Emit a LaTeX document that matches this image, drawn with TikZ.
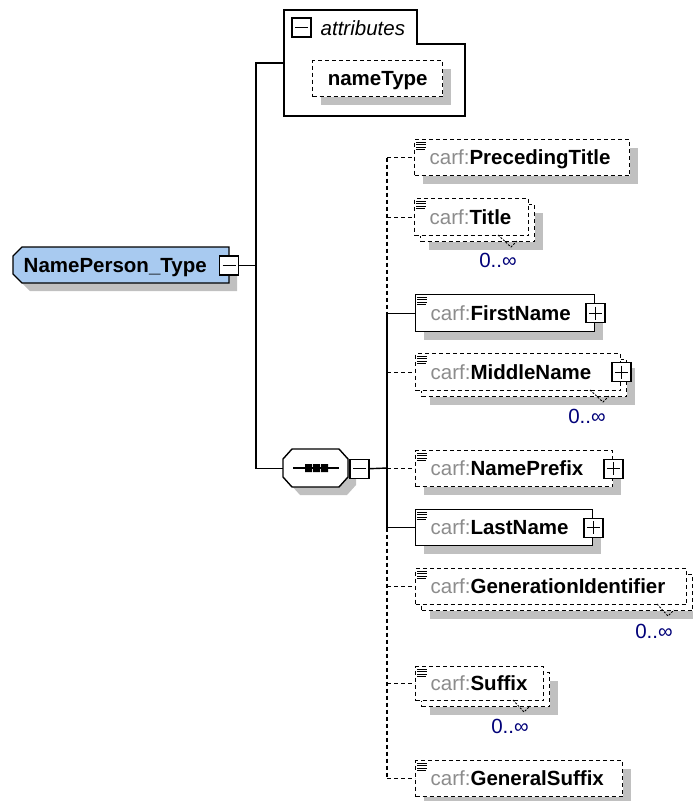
\documentclass[tikz,border=0pt]{standalone}
\usepackage{fontspec}
\setmainfont{Liberation Sans}
\usetikzlibrary{shadows}
\definecolor{typeblue}{RGB}{168,202,240}
\definecolor{shadowgray}{RGB}{192,192,192}
\definecolor{nsgray}{RGB}{140,140,140}
\definecolor{occblue}{RGB}{0,0,120}

\begin{document}
\begin{tikzpicture}[x=1pt,y=-1pt,line width=1.4pt,
  font=\fontsize{20.5}{24}\selectfont,
  optline/.style={dash pattern=on 4pt off 3pt},
  notch/.style={line width=0.9pt,dash pattern=on 2pt off 1.5pt},
  dshadow/.style={drop shadow={shadow xshift=8pt,shadow yshift=-8pt,fill=shadowgray,opacity=1}},
  lbl/.style={inner sep=0pt,text height=19pt,text depth=5pt},
  elbox/.style={draw,fill=white,anchor=north west,inner xsep=15pt,inner ysep=0pt,text height=19pt,text depth=5pt},
  optbox/.style={elbox,optline},
  pmbox/.style={draw,fill=white,solid,minimum size=19pt,inner sep=0pt},
  plusbox/.style={pmbox,path picture={\draw ([xshift=3pt]path picture bounding box.west) -- ([xshift=-3pt]path picture bounding box.east) ([yshift=-3pt]path picture bounding box.north) -- ([yshift=3pt]path picture bounding box.south);}},
  minusbox/.style={pmbox,path picture={\draw ([xshift=3pt]path picture bounding box.west) -- ([xshift=-3pt]path picture bounding box.east);}},
  occ/.style={text=occblue,inner sep=0pt},
  docicon/.pic={\draw[line width=1pt] (0,0) -- (10,0) (0,2.6) -- (10,2.6) (0,5.2) -- (10,5.2) (0,7.8) -- (9,7.8);}
]
\useasboundingbox (0,0) rectangle (693,801);

% attributes
\draw (284,10) -- (417,10) -- (417,44) -- (465,44) -- (465,116) -- (284,116) -- cycle;
\node[minusbox] (attrm) at (301.5,27.5) {};
\node[lbl,anchor=west] (attrs) at (320,28) {\itshape attributes};
\node[optbox,dshadow,minimum width=130,minimum height=36,inner xsep=0pt] (nt) at (312,60) {\textbf{nameType}};
\coordinate (attrin) at (284,63);

% complex type
\fill[shadowgray] (30,255) -- (237,255) -- (237,291) -- (30,291) -- (21,282) -- (21,264) -- cycle;
\draw[fill=typeblue] (22,247) -- (229,247) -- (229,283) -- (22,283) -- (13,274) -- (13,256) -- cycle;
\node[lbl,anchor=west] (npt) at (23,265) {\textbf{NamePerson\_Type}};
\node[minusbox] (nptm) at (229,265.5) {};
\coordinate (trunk) at (256,265.5);

% sequence
\fill[shadowgray] (300,457) -- (347,457) -- (356,467) -- (356,485) -- (347,495) -- (300,495) -- (291,485) -- (291,467) -- cycle;
\draw[fill=white] (292,449) -- (339,449) -- (348,459) -- (348,477) -- (339,487) -- (292,487) -- (283,477) -- (283,459) -- cycle;
\node[minimum width=65,minimum height=38,inner sep=0pt,anchor=north west] (seq) at (283,449) {};
\draw (293,468) -- (339,468);
\fill (305,464) rectangle (312,472) (313,464) rectangle (320,472) (321,464) rectangle (328,472);
\node[minusbox,anchor=west] (seqm) at (seq.east) {};
\coordinate (bus) at (387,468);

% elements
\node[optbox,dshadow,minimum height=36] (pt) at (414,139) {\makebox[185pt][l]{{\color{nsgray}carf:}\textbf{PrecedingTitle}}};
\pic at ([shift={(2,3)}]pt.north west) {docicon};

\node[optbox,dshadow,minimum width=114,minimum height=37] (tib) at (420,204) {};
\node[optbox,minimum height=37] (ti) at (414,198) {\makebox[84pt][l]{{\color{nsgray}carf:}\textbf{Title}}};
\pic at ([shift={(2,3)}]ti.north west) {docicon};
\draw[notch] (498,235) -- (511,247) -- (517,241);
\node[occ] (tiocc) at (498,260) {0..∞};

\node[elbox,dshadow,minimum height=37] (fn) at (415,294) {\makebox[149pt][l]{{\color{nsgray}carf:}\textbf{FirstName}}};
\pic at ([shift={(2,3)}]fn.north west) {docicon};
\node[plusbox] (fnp) at (fn.east) {};

\node[optbox,dshadow,minimum width=205,minimum height=37] (mnb) at (421,359) {};
\node[optbox,minimum height=37] (mn) at (415,353) {\makebox[175pt][l]{{\color{nsgray}carf:}\textbf{MiddleName}}};
\pic at ([shift={(2,3)}]mn.north west) {docicon};
\node[plusbox] (mnp) at (mn.east) {};
\draw[notch] (590,390) -- (603,402) -- (609,396);
\node[occ] (mnocc) at (587,416) {0..∞};

\node[optbox,dshadow,minimum height=36] (pfx) at (415,450) {\makebox[167pt][l]{{\color{nsgray}carf:}\textbf{NamePrefix}}};
\pic at ([shift={(2,3)}]pfx.north west) {docicon};
\node[plusbox] (pfxp) at (pfx.east) {};

\node[elbox,dshadow,minimum height=36] (ln) at (415,509) {\makebox[147pt][l]{{\color{nsgray}carf:}\textbf{LastName}}};
\pic at ([shift={(2,3)}]ln.north west) {docicon};
\node[plusbox] (lnp) at (ln.east) {};

\node[optbox,dshadow,minimum width=271,minimum height=36] (gib) at (421,574) {};
\node[optbox,minimum height=36] (gi) at (415,568) {\makebox[241pt][l]{{\color{nsgray}carf:}\textbf{GenerationIdentifier}}};
\pic at ([shift={(2,3)}]gi.north west) {docicon};
\draw[notch] (657,604) -- (668,616) -- (674,610);
\node[occ] (giocc) at (654,631) {0..∞};

\node[optbox,dshadow,minimum width=128,minimum height=34] (sfb) at (421,672) {};
\node[optbox,minimum height=34] (sf) at (415,666) {\makebox[98pt][l]{{\color{nsgray}carf:}\textbf{Suffix}}};
\pic at ([shift={(2,3)}]sf.north west) {docicon};
\draw[notch] (513,700) -- (524,712) -- (530,706);
\node[occ] (sfocc) at (510,726) {0..∞};

\node[optbox,dshadow,minimum height=36] (gs) at (415,760) {\makebox[177pt][l]{{\color{nsgray}carf:}\textbf{GeneralSuffix}}};
\pic at ([shift={(2,3)}]gs.north west) {docicon};

% connectors
\draw (nptm.east) -- (trunk);
\draw (attrin) -| (trunk) |- (seq.west);
\draw (seqm.east) -- (bus);
\draw[optline] (bus |- pt.west) -- (bus |- fn.west);
\draw (bus |- fn.west) -- (bus |- ln.west);
\draw[optline] (bus |- ln.west) -- (bus |- gs.west);
\draw[optline] (bus |- pt.west) -- (pt.west);
\draw[optline] (bus |- ti.west) -- (ti.west);
\draw (bus |- fn.west) -- (fn.west);
\draw[optline] (bus |- mn.west) -- (mn.west);
\draw[optline] (bus |- pfx.west) -- (pfx.west);
\draw (bus |- ln.west) -- (ln.west);
\draw[optline] (bus |- gi.west) -- (gi.west);
\draw[optline] (bus |- sf.west) -- (sf.west);
\draw[optline] (bus |- gs.west) -- (gs.west);
\end{tikzpicture}
\end{document}
